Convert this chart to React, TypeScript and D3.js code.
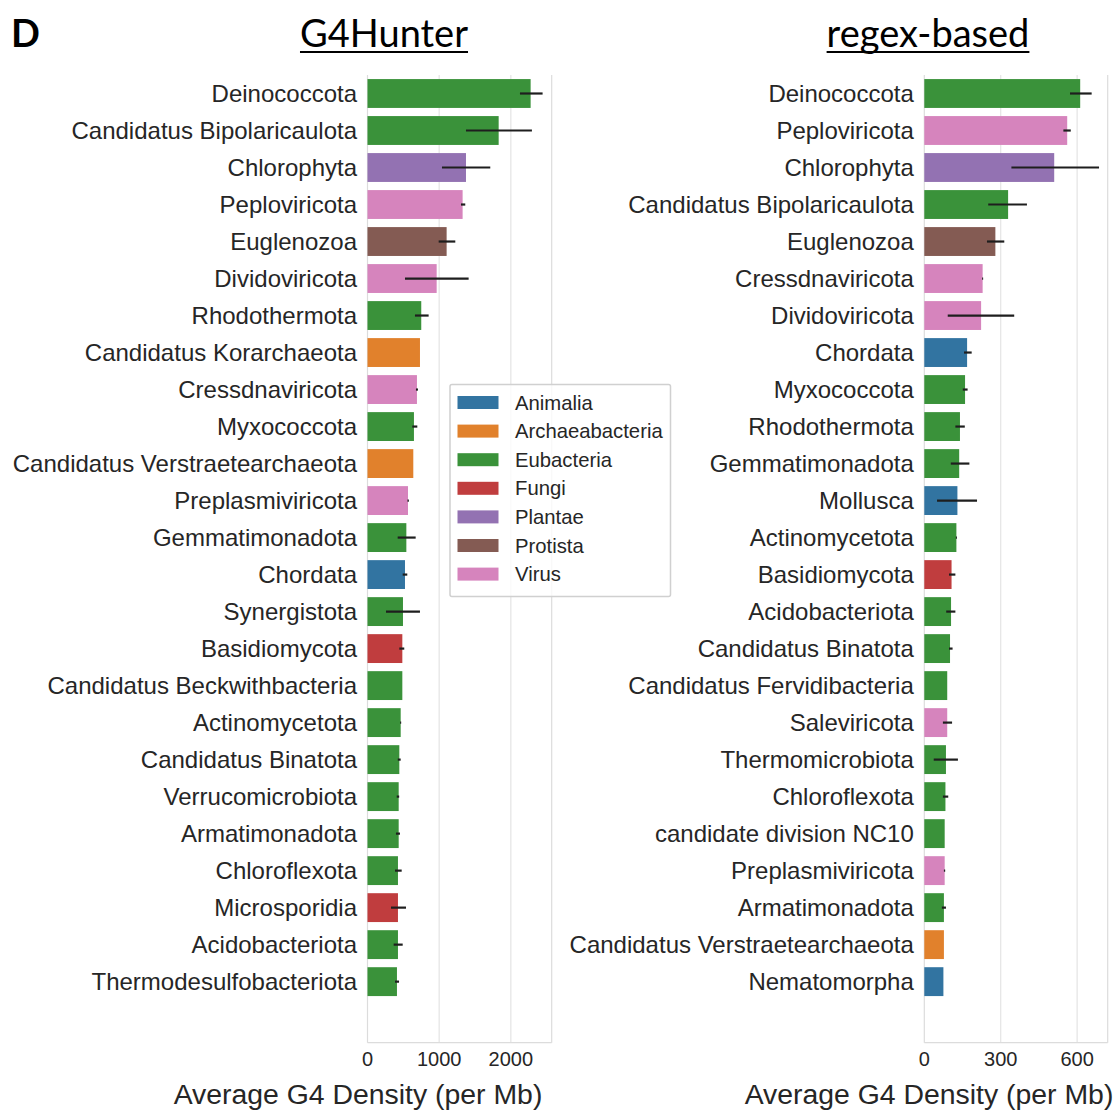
import React, { useRef, useEffect } from 'react';
import * as d3 from 'd3';

// ---- data ----
const kingdoms = ['Animalia', 'Archaeabacteria', 'Eubacteria', 'Fungi', 'Plantae', 'Protista', 'Virus'];
const kingdomColors = ['#3274a1', '#e1812c', '#3a923a', '#c03d3e', '#9372b2', '#845b53', '#d684bd'];

const hunterPhyla = [
    'Deinococcota', 'Candidatus Bipolaricaulota', 'Chlorophyta', 'Peploviricota', 'Euglenozoa',
    'Dividoviricota', 'Rhodothermota', 'Candidatus Korarchaeota', 'Cressdnaviricota', 'Myxococcota',
    'Candidatus Verstraetearchaeota', 'Preplasmiviricota', 'Gemmatimonadota', 'Chordata', 'Synergistota',
    'Basidiomycota', 'Candidatus Beckwithbacteria', 'Actinomycetota', 'Candidatus Binatota', 'Verrucomicrobiota',
    'Armatimonadota', 'Chloroflexota', 'Microsporidia', 'Acidobacteriota', 'Thermodesulfobacteriota',
];
const hunterKingdom = [
    'Eubacteria', 'Eubacteria', 'Plantae', 'Virus', 'Protista',
    'Virus', 'Eubacteria', 'Archaeabacteria', 'Virus', 'Eubacteria',
    'Archaeabacteria', 'Virus', 'Eubacteria', 'Animalia', 'Eubacteria',
    'Fungi', 'Eubacteria', 'Eubacteria', 'Eubacteria', 'Eubacteria',
    'Eubacteria', 'Eubacteria', 'Fungi', 'Eubacteria', 'Eubacteria',
];
const hunterMean = [2276, 1830, 1374, 1327, 1104, 965, 750, 732, 690, 648, 639, 565, 542, 523, 495, 486, 486, 463, 444, 435, 435, 425, 425, 425, 411];
const hunterLow = [2127, 1374, 1039, 1304, 993, 523, 662, null, 676, 625, null, 558, 421, 491, 258, 444, null, 455, 423, 408, 397, 384, 328, 365, 384];
const hunterHigh = [2443, 2294, 1713, 1364, 1225, 1411, 853, null, 704, 695, null, 577, 672, 555, 732, 513, null, 470, 463, 442, 453, 477, 537, 491, 440];

const regexPhyla = [
    'Deinococcota', 'Peploviricota', 'Chlorophyta', 'Candidatus Bipolaricaulota', 'Euglenozoa',
    'Cressdnaviricota', 'Dividoviricota', 'Chordata', 'Myxococcota', 'Rhodothermota',
    'Gemmatimonadota', 'Mollusca', 'Actinomycetota', 'Basidiomycota', 'Acidobacteriota',
    'Candidatus Binatota', 'Candidatus Fervidibacteria', 'Saleviricota', 'Thermomicrobiota', 'Chloroflexota',
    'candidate division NC10', 'Preplasmiviricota', 'Armatimonadota', 'Candidatus Verstraetearchaeota', 'Nematomorpha',
];
const regexKingdom = [
    'Eubacteria', 'Virus', 'Plantae', 'Eubacteria', 'Protista',
    'Virus', 'Virus', 'Animalia', 'Eubacteria', 'Eubacteria',
    'Eubacteria', 'Animalia', 'Eubacteria', 'Fungi', 'Eubacteria',
    'Eubacteria', 'Eubacteria', 'Virus', 'Eubacteria', 'Eubacteria',
    'Eubacteria', 'Virus', 'Eubacteria', 'Archaeabacteria', 'Animalia',
];
const regexMean = [612, 561, 510, 329, 279, 229, 223, 168, 160, 140, 137, 130, 126, 107, 105, 101, 90, 90, 85, 83, 80, 80, 77, 77, 75];
const regexLow = [572, 546, 342, 251, 246, 227, 92, 156, 151, 122, 104, 50, 124, 97, 86, 97, null, 73, 37, 73, null, 77, 69, null, null];
const regexHigh = [657, 575, 686, 403, 314, 231, 353, 186, 170, 159, 177, 207, 128, 122, 122, 111, null, 109, 132, 94, null, 82, 85, null, null];

const hunterTicks = [0, 1000, 2000];
const regexTicks = [0, 300, 600];

const W = 1119;
const H = 1116;
const sansFont = '"Liberation Sans", Arial, sans-serif';
const titleFont = 'Lato, "Open Sans", sans-serif';

const App: React.FC = () => {
    const svgRef = useRef<SVGSVGElement | null>(null);

    useEffect(() => {
        if (!svgRef.current) return;
        const svg = d3.select(svgRef.current);
        svg.selectAll('*').remove();

        svg.append('rect').attr('width', W).attr('height', H).attr('fill', '#fff');

        const color = d3.scaleOrdinal<string, string>().domain(kingdoms).range(kingdomColors);

        const top = 75;
        const bottom = 1042.7;
        const y = d3.scaleLinear().domain([-0.5, 25.65]).range([top, bottom]);
        const pitch = y(1) - y(0);
        const barH = pitch * 0.78;

        const panels = [
            { title: 'G4Hunter', phyla: hunterPhyla, kingdom: hunterKingdom, mean: hunterMean, low: hunterLow, high: hunterHigh,
              ticks: hunterTicks, xmax: 2570, x0: 367.5, x1: 551.7, center: 384, labelCenter: 358 },
            { title: 'regex-based', phyla: regexPhyla, kingdom: regexKingdom, mean: regexMean, low: regexLow, high: regexHigh,
              ticks: regexTicks, xmax: 720, x0: 924.3, x1: 1107.7, center: 928, labelCenter: 929 },
        ];

        panels.forEach(p => {
            const x = d3.scaleLinear().domain([0, p.xmax]).range([p.x0, p.x1]);
            const g = svg.append('g');

            // grid + spines
            g.selectAll('line.grid')
                .data(p.ticks.filter(t => t > 0))
                .enter().append('line')
                .attr('x1', d => x(d)).attr('x2', d => x(d))
                .attr('y1', top).attr('y2', bottom)
                .attr('stroke', '#e4e4e4').attr('stroke-width', 1.2);
            g.append('line').attr('x1', p.x0).attr('x2', p.x0).attr('y1', top).attr('y2', bottom)
                .attr('stroke', '#dcdcdc').attr('stroke-width', 1.2);
            g.append('line').attr('x1', p.x1).attr('x2', p.x1).attr('y1', top).attr('y2', bottom)
                .attr('stroke', '#dcdcdc').attr('stroke-width', 1.2);
            g.append('line').attr('x1', p.x0).attr('x2', p.x1).attr('y1', bottom).attr('y2', bottom)
                .attr('stroke', '#dcdcdc').attr('stroke-width', 1.2);

            // bars
            g.selectAll('rect.bar')
                .data(p.phyla)
                .enter().append('rect')
                .attr('x', x(0))
                .attr('y', (_, i) => y(i) - barH / 2)
                .attr('width', (_, i) => x(p.mean[i]) - x(0))
                .attr('height', barH)
                .attr('fill', (_, i) => color(p.kingdom[i]));

            // error bars
            p.phyla.forEach((_, i) => {
                const lo = p.low[i];
                const hi = p.high[i];
                if (lo == null || hi == null) return;
                g.append('line')
                    .attr('x1', x(lo)).attr('x2', x(hi))
                    .attr('y1', y(i)).attr('y2', y(i))
                    .attr('stroke', '#1e1e1e').attr('stroke-width', 2.2);
            });

            // category labels
            g.selectAll('text.cat')
                .data(p.phyla)
                .enter().append('text')
                .attr('x', p.x0 - 10.5)
                .attr('y', (_, i) => y(i))
                .attr('dy', '0.35em')
                .attr('text-anchor', 'end')
                .attr('font-family', sansFont)
                .attr('font-size', 24)
                .attr('fill', '#262626')
                .text(d => d);

            // x tick labels
            g.selectAll('text.tick')
                .data(p.ticks)
                .enter().append('text')
                .attr('x', d => x(d))
                .attr('y', 1065.5)
                .attr('text-anchor', 'middle')
                .attr('font-family', sansFont)
                .attr('font-size', 20)
                .attr('fill', '#262626')
                .text(d => String(d));

            // x axis label
            g.append('text')
                .attr('x', p.labelCenter)
                .attr('y', 1104)
                .attr('text-anchor', 'middle')
                .attr('font-family', sansFont)
                .attr('font-size', 28.4)
                .attr('fill', '#262626')
                .text('Average G4 Density (per Mb)');

            // underlined title
            const t = g.append('text')
                .attr('x', p.center)
                .attr('y', 47)
                .attr('text-anchor', 'middle')
                .attr('font-family', titleFont)
                .attr('font-size', 38)
                .attr('fill', '#000')
                .text(p.title);
            const tw = (t.node() as SVGTextElement).getComputedTextLength();
            g.append('line')
                .attr('x1', p.center - tw / 2).attr('x2', p.center + tw / 2)
                .attr('y1', 52).attr('y2', 52)
                .attr('stroke', '#000').attr('stroke-width', 2.2);
        });

        // panel letter
        svg.append('text')
            .attr('x', 11).attr('y', 47)
            .attr('font-family', titleFont)
            .attr('font-weight', 'bold')
            .attr('font-size', 38)
            .attr('fill', '#000')
            .text('D');

        // legend
        const lg = svg.append('g').attr('transform', 'translate(450,384.5)');
        lg.append('rect')
            .attr('width', 220.5).attr('height', 212)
            .attr('fill', '#fff').attr('fill-opacity', 0.8)
            .attr('stroke', '#d0d0d0').attr('stroke-width', 1.5).attr('rx', 2);
        const items = lg.selectAll('g.item')
            .data(kingdoms)
            .enter().append('g')
            .attr('transform', (_, i) => `translate(0,${18 + i * 28.6})`);
        items.append('rect')
            .attr('x', 7.5).attr('y', -6.5)
            .attr('width', 41).attr('height', 13)
            .attr('fill', d => color(d));
        items.append('text')
            .attr('x', 65).attr('y', 0)
            .attr('dy', '0.35em')
            .attr('font-family', sansFont)
            .attr('font-size', 20.3)
            .attr('fill', '#262626')
            .text(d => d);
    }, []);

    return (
        <svg
            ref={svgRef}
            width={W}
            height={H}
            style={{ position: 'absolute', left: 0, top: 0, display: 'block' }}
        ></svg>
    );
};

export default App;
